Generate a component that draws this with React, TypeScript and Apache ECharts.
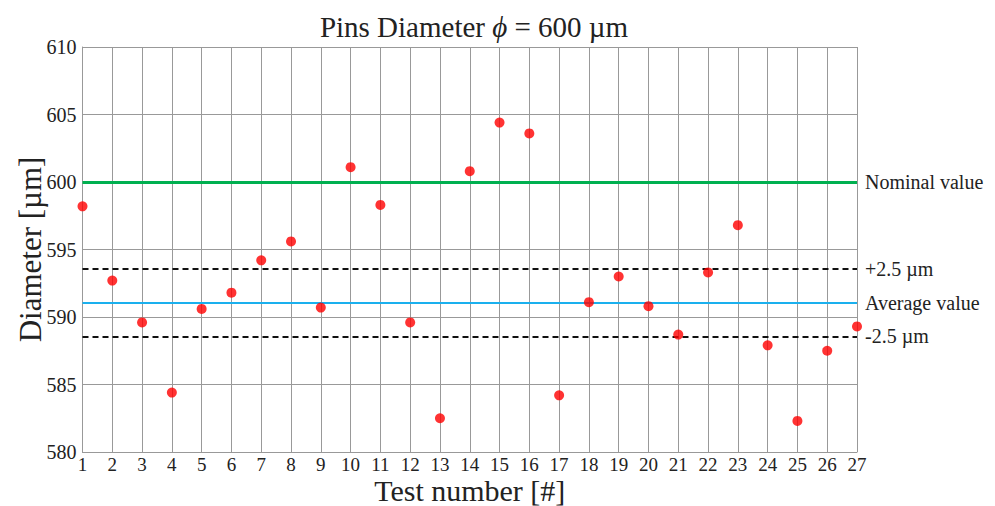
import React, { useEffect, useRef } from "react";
import * as echarts from "echarts";

const testNumbers = [1, 2, 3, 4, 5, 6, 7, 8, 9, 10, 11, 12, 13, 14, 15, 16, 17, 18, 19, 20, 21, 22, 23, 24, 25, 26, 27];
const diameters = [598.2, 592.7, 589.6, 584.4, 590.6, 591.8, 594.2, 595.6, 590.7, 601.1, 598.3, 589.6, 582.5, 600.8, 604.4, 603.6, 584.2, 591.1, 593.0, 590.8, 588.7, 593.3, 596.8, 587.9, 582.3, 587.5, 589.3];
const nominalValue = 600;
const averageValue = 591.07;
const tolerance = 2.5;
const refLabels = ["Nominal value", "+2.5 µm", "Average value", "-2.5 µm"];

const FONT = "Liberation Serif";

export default function App() {
  const ref = useRef<HTMLDivElement>(null);
  useEffect(() => {
    if (!ref.current) return;
    const chart = echarts.init(ref.current, undefined, { renderer: "svg" });
    const labelStyle = {
      show: true,
      position: "end",
      color: "#222",
      fontFamily: FONT,
      fontSize: 20,
      distance: 8,
    };
    chart.setOption({
      animation: false,
      backgroundColor: "#fff",
      textStyle: { fontFamily: FONT },
      title: {
        text: "Pins Diameter {i|ϕ} = 600 µm",
        left: 469,
        top: 7,
        textAlign: "center",
        textStyle: {
          fontFamily: FONT,
          fontSize: 29,
          fontWeight: "normal",
          color: "#222",
          rich: {
            i: { fontFamily: FONT, fontSize: 29, fontStyle: "italic", color: "#222" },
          },
        },
      },
      grid: { left: 82.5, right: 138, top: 47, bottom: 54, outerBoundsMode: "none", containLabel: false },
      xAxis: {
        type: "value",
        min: 1,
        max: 27,
        interval: 1,
        name: "Test number [#]",
        nameLocation: "middle",
        nameGap: 23,
        nameMoveOverlap: false,
        nameTextStyle: { fontFamily: FONT, fontSize: 30, color: "#222" },
        axisLine: { show: true, lineStyle: { color: "#999", width: 1 } },
        axisTick: { show: false },
        axisLabel: { fontFamily: FONT, fontSize: 19, color: "#222", margin: 3 },
        splitLine: { show: true, lineStyle: { color: "#999", width: 1 } },
      },
      yAxis: {
        type: "value",
        min: 580,
        max: 610,
        interval: 5,
        name: "Diameter [µm]",
        nameLocation: "middle",
        nameGap: 37,
        nameMoveOverlap: false,
        nameTextStyle: { fontFamily: FONT, fontSize: 31, color: "#222" },
        axisLine: { show: true, lineStyle: { color: "#999", width: 1 } },
        axisTick: { show: false },
        axisLabel: { fontFamily: FONT, fontSize: 20, color: "#222", margin: 6 },
        splitLine: { show: true, lineStyle: { color: "#999", width: 1 } },
      },
      series: [
        {
          type: "scatter",
          data: testNumbers.map((t, i) => [t, diameters[i]]),
          symbol: "circle",
          symbolSize: 10,
          itemStyle: { color: "#ff0000" },
          z: 5,
          markLine: {
            silent: true,
            symbol: ["none", "none"],
            z: 3,
            label: labelStyle,
            data: [
              {
                yAxis: nominalValue,
                lineStyle: { color: "#00b050", width: 3, type: "solid" },
                label: { ...labelStyle, formatter: refLabels[0] },
              },
              {
                yAxis: averageValue + tolerance,
                lineStyle: { color: "#111", width: 2, type: [6, 4] },
                label: { ...labelStyle, formatter: refLabels[1] },
              },
              {
                yAxis: averageValue,
                lineStyle: { color: "#1ab0ee", width: 2, type: "solid" },
                label: { ...labelStyle, formatter: refLabels[2] },
              },
              {
                yAxis: averageValue - tolerance,
                lineStyle: { color: "#111", width: 2, type: [6, 4] },
                label: { ...labelStyle, formatter: refLabels[3] },
              },
            ],
          },
        },
      ],
    });
    return () => chart.dispose();
  }, []);
  return (
    <div
      ref={ref}
      style={{ position: "absolute", left: 0, top: 0, width: 995, height: 506 }}
    />
  );
}
